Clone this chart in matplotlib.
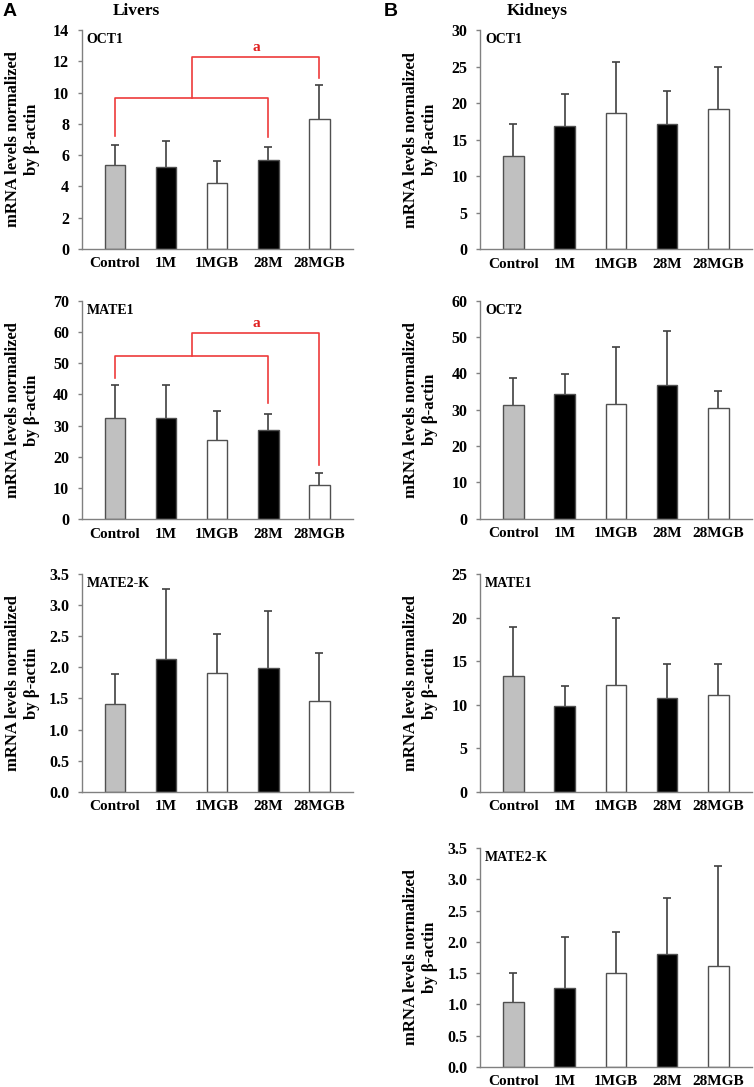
import matplotlib
matplotlib.use("Agg")
import matplotlib.pyplot as plt
import numpy as np

plt.rcParams['font.family'] = ['Liberation Serif', 'DejaVu Serif']
plt.rcParams['font.weight'] = 'bold'

groups = ["Control", "1M", "1MGB", "28M", "28MGB"]
bar_colors = ["#c0c0c0", "#000000", "#ffffff", "#000000", "#ffffff"]

# Livers
liver_oct1_mean = [5.36, 5.25, 4.23, 5.72, 8.32]
liver_oct1_sd = [1.32, 1.66, 1.40, 0.77, 2.16]
liver_mate1_mean = [32.3, 32.3, 25.5, 28.7, 11.1]
liver_mate1_sd = [10.6, 10.8, 9.3, 5.1, 3.6]
liver_mate2k_mean = [1.41, 2.14, 1.91, 1.99, 1.46]
liver_mate2k_sd = [0.48, 1.12, 0.62, 0.92, 0.77]

# Kidneys
kidney_oct1_mean = [12.7, 16.8, 18.7, 17.2, 19.2]
kidney_oct1_sd = [4.5, 4.4, 6.9, 4.4, 5.7]
kidney_oct2_mean = [31.2, 34.3, 31.5, 36.7, 30.6]
kidney_oct2_sd = [7.6, 5.4, 15.8, 14.9, 4.6]
kidney_mate1_mean = [13.3, 9.8, 12.2, 10.8, 11.1]
kidney_mate1_sd = [5.6, 2.3, 7.7, 3.9, 3.6]
kidney_mate2k_mean = [1.04, 1.26, 1.50, 1.81, 1.61]
kidney_mate2k_sd = [0.46, 0.82, 0.66, 0.89, 1.61]

W, H = 754, 1087
fig = plt.figure(figsize=(W / 100, H / 100), dpi=100)


def rect(left, right, top, bottom):
    return [left / W, 1 - bottom / H, (right - left) / W, (bottom - top) / H]


def panel(r, mean, sd, ymax, ystep, name, fmt):
    ax = fig.add_axes(r)
    x = np.arange(len(groups))
    mean = np.asarray(mean)
    ax.bar(x, mean, width=0.4, color=bar_colors, edgecolor="#505050",
           linewidth=1.0, zorder=2)
    eb = ax.errorbar(x, mean, yerr=[np.zeros(len(sd)), sd], fmt="none",
                     ecolor="#404040", elinewidth=1.2, capsize=3, capthick=1.2,
                     zorder=1)
    for cl in eb[1]:
        if np.allclose(cl.get_ydata(), mean):
            cl.set_visible(False)
    ax.set_xlim(-0.65, 4.65)
    ax.set_ylim(0, ymax)
    ticks = np.arange(0, ymax + ystep / 2, ystep)
    ax.set_yticks(ticks)
    ax.set_yticklabels([fmt.format(t) for t in ticks], fontsize=11.5, fontweight='bold')
    ax.set_xticks(x)
    ax.set_xticklabels(groups, fontsize=11, fontweight='bold')
    ax.tick_params(axis='x', length=0, pad=6)
    ax.tick_params(axis='y', length=3, width=1, color="#808080", pad=6)
    for s in ["top", "right"]:
        ax.spines[s].set_visible(False)
    for s in ["left", "bottom"]:
        ax.spines[s].set_color("#808080")
        ax.spines[s].set_linewidth(1.0)
    ax.set_ylabel("mRNA levels normalized\nby β-actin", fontsize=12,
                  fontweight='bold', linespacing=1.2)
    ax.yaxis.set_label_coords(-0.155, 0.5)
    ax.text(0.018, 0.955, name, transform=ax.transAxes, fontsize=10,
            fontweight='bold', va='center', ha='left')
    return ax


def bracket(ax, y_low, l0, l3, y_high, l4, label_y):
    red = "#ee3b3b"
    ax.plot([0, 0, 3, 3], [l0, y_low, y_low, l3], color=red, lw=1.2, zorder=3)
    ax.plot([1.5, 1.5, 4, 4], [y_low, y_high, y_high, l4], color=red, lw=1.2, zorder=3)
    ax.text(2.77, label_y, "a", color="#e02020", fontsize=11, fontweight='bold',
            ha='center', va='center')


A_l, A_r = 81.7, 352.7
B_l, B_r = 480, 751.7

a1 = panel(rect(A_l, A_r, 30, 249), liver_oct1_mean, liver_oct1_sd, 14, 2, "OCT1", "{:.0f}")
bracket(a1, 9.67, 7.2, 7.13, 12.3, 10.9, 12.9)
a2 = panel(rect(A_l, A_r, 300.7, 519.3), liver_mate1_mean, liver_mate1_sd, 70, 10, "MATE1", "{:.0f}")
bracket(a2, 52.2, 45.1, 37.1, 59.8, 17.4, 62.8)
panel(rect(A_l, A_r, 574, 791.7), liver_mate2k_mean, liver_mate2k_sd, 3.5, 0.5, "MATE2-K", "{:.1f}")

panel(rect(B_l, B_r, 30, 249.3), kidney_oct1_mean, kidney_oct1_sd, 30, 5, "OCT1", "{:.0f}")
panel(rect(B_l, B_r, 300.7, 518.7), kidney_oct2_mean, kidney_oct2_sd, 60, 10, "OCT2", "{:.0f}")
panel(rect(B_l, B_r, 574, 791.7), kidney_mate1_mean, kidney_mate1_sd, 25, 5, "MATE1", "{:.0f}")
panel(rect(B_l, B_r, 848, 1067), kidney_mate2k_mean, kidney_mate2k_sd, 3.5, 0.5, "MATE2-K", "{:.1f}")

fig.text(3 / W, 1 - 11 / H, "A", fontsize=14, fontweight='bold',
         family=['Liberation Sans', 'DejaVu Sans'], ha='left', va='center')
fig.text(384 / W, 1 - 11 / H, "B", fontsize=14, fontweight='bold',
         family=['Liberation Sans', 'DejaVu Sans'], ha='left', va='center')
fig.text(136 / W, 1 - 11 / H, "Livers", fontsize=12.5, fontweight='bold',
         ha='center', va='center')
fig.text(537 / W, 1 - 11 / H, "Kidneys", fontsize=12.5, fontweight='bold',
         ha='center', va='center')

fig.savefig("out.png", dpi=100, facecolor="white")
